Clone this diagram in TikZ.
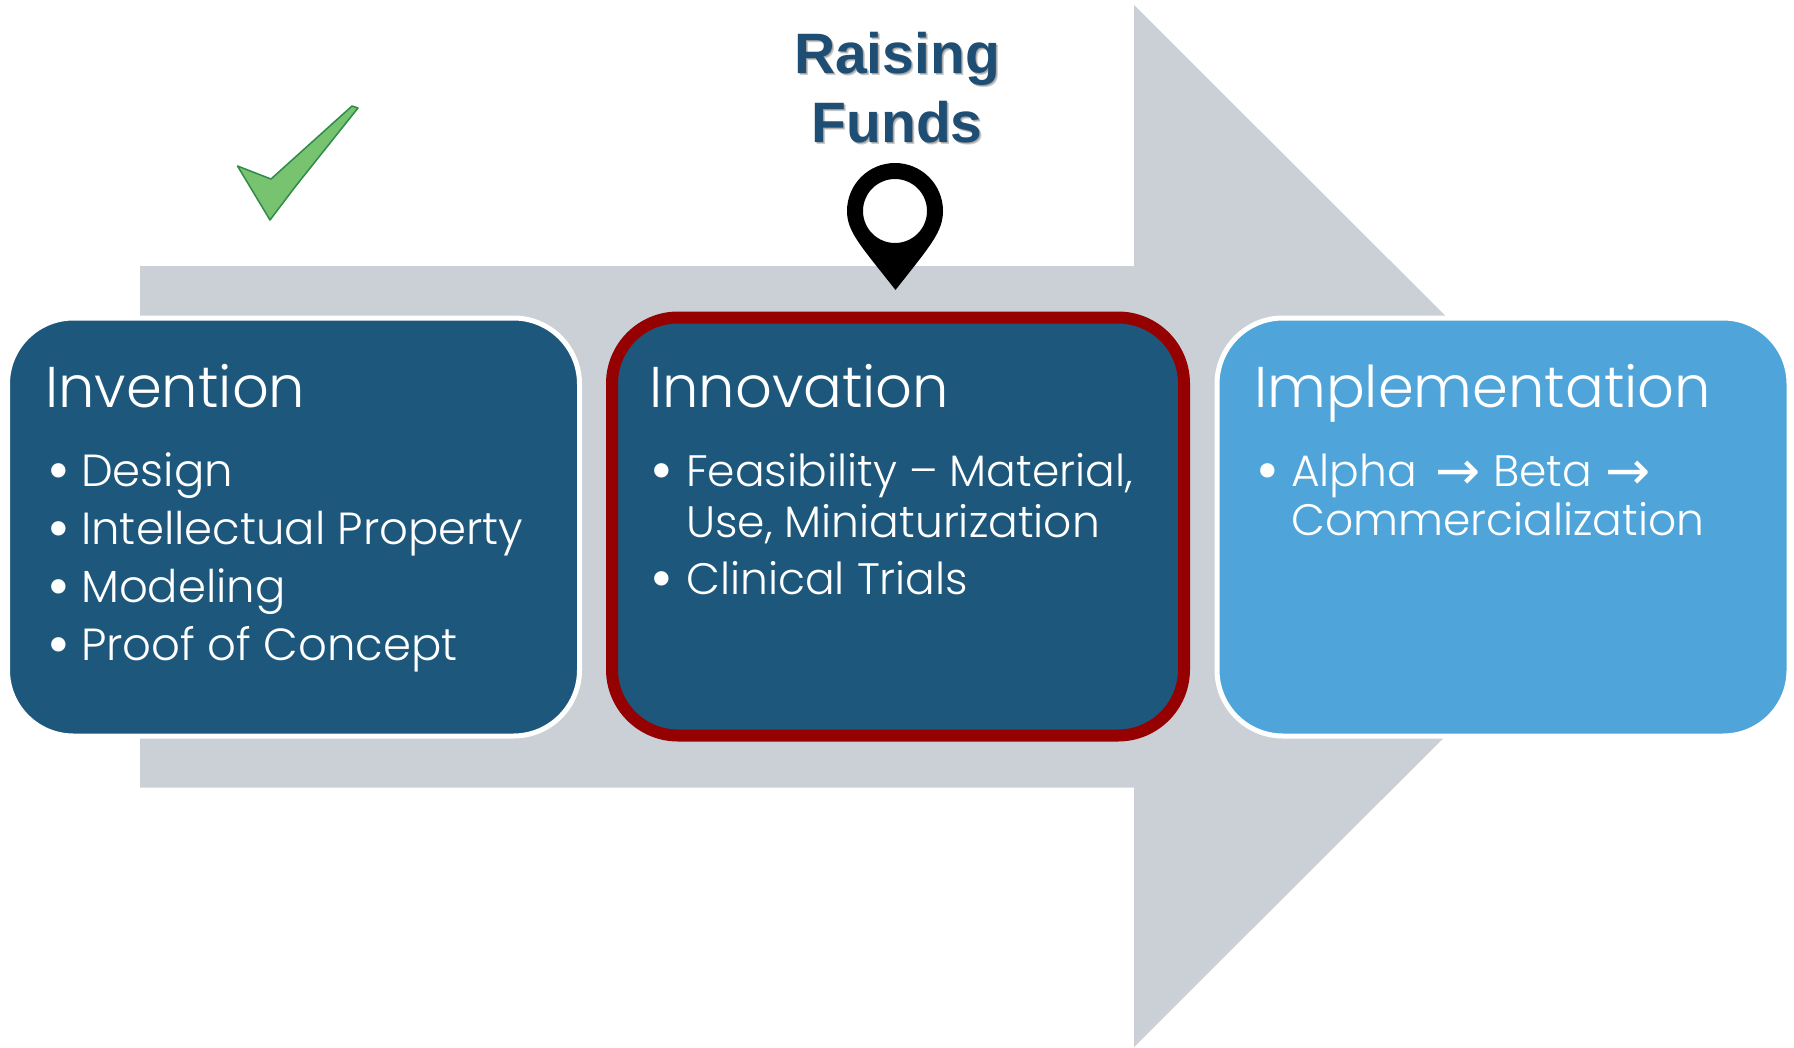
\documentclass[tikz,border=0pt]{standalone}
\usepackage{fontspec}
\setmainfont{Poppins Light}
\newfontfamily\boldfont{Liberation Sans Bold}
\newfontfamily\symfont{DejaVu Sans}
\usepackage{tikz}
\usepackage{xcolor}

\definecolor{arrowgray}{HTML}{CBD0D7}
\definecolor{darkblue}{HTML}{1D587C}
\definecolor{lightblue}{HTML}{4FA5D9}
\definecolor{darkred}{HTML}{950000}
\definecolor{checkgreen}{HTML}{77C36F}
\definecolor{checkedge}{HTML}{2E8B4A}
\definecolor{fundsblue}{HTML}{1F4E74}

\tikzset{
  stage/.style={rectangle, rounded corners=66pt, draw=white, line width=5pt, inner sep=0pt},
  title/.style={anchor=base west, inner sep=0pt, text=white, font=\fontsize{57.5}{57.5}\selectfont},
  item/.style={anchor=base west, inner sep=0pt, text=white, font=\fontsize{44}{44}\selectfont},
  wideitem/.style={item, font=\fontsize{45}{45}\selectfont},
  dot/.style={anchor=base, inner sep=0pt, text=white, font=\fontsize{62}{62}\selectfont},
  pointer/.style={anchor=base west, inner sep=0pt, text=white, font=\fontsize{54}{54}\symfont},
  funds/.style={inner sep=0pt, anchor=base, text=fundsblue, font=\fontsize{57}{57}\boldfont},
  fundshade/.style={funds, text=black, opacity=0.2}
}

\begin{document}
\begin{tikzpicture}[x=1pt, y=-1pt]
%    \draw [help lines, opacity=0.5] (0,0) grid [step=100pt] (1794,1047);
    \useasboundingbox (0,0) rectangle (1794,1047);

    %% the big arrow, its tip is hidden behind the third box
    \fill [arrowgray] (140,266) -- (1134,266) -- (1134,5) -- (1656,526)
        -- (1134,1047) -- (1134,787.5) -- (140,787.5) -- cycle;

    %% the three boxes
    \node (invention) [stage, fill=darkblue, minimum width=572pt, minimum height=418pt] at (293.5,527) {};
    \node (innovation) [stage, fill=darkblue, draw=darkred, line width=12pt, minimum width=572pt, minimum height=418pt] at (898,526.5) {};
    \node (implementation) [stage, fill=lightblue, minimum width=572pt, minimum height=418pt] at (1503,527) {};

    %% left box
    \node (t1) [title] at (45,407) {Invention};
    \node (b1) [dot] at (58.5,491) {•};
    \node (i1) [wideitem] at (81,486) {Design};
    \node (b2) [dot] at (58.5,549) {•};
    \node (i2) [wideitem] at (81,544) {Intellectual Property};
    \node (b3) [dot] at (58.5,607) {•};
    \node (i3) [wideitem] at (81,602) {Modeling};
    \node (b4) [dot] at (58.5,665) {•};
    \node (i4) [wideitem] at (81,660) {Proof of Concept};

    %% middle box
    \node (t2) [title] at (649,407) {Innovation};
    \node (b5) [dot] at (662,491) {•};
    \node (i5) [item] at (686,486) {Feasibility – Material,};
    \node (i6) [item] at (686,537) {Use, Miniaturization};
    \node (b6) [dot] at (662,599) {•};
    \node (i7) [item] at (686,594) {Clinical Trials};

    %% right box
    \node (t3) [title] at (1254,407) {Implementation};
    \node (b7) [dot] at (1268,491) {•};
    \node (i8) [item] at (1291,486) {Alpha};
    \node (a1) [pointer] at (1435,489) {→};
    \node (i9) [item] at (1493,486) {Beta};
    \node (a2) [pointer] at (1605,489) {→};
    \node (i10) [item] at (1291,535) {Commercialization};

    %% the check mark
    \draw [fill=checkgreen, draw=checkedge, line width=1.5pt, line join=round]
        (237.5,166) -- (271,179) -- (352,106) -- (358,108) -- (295,187) -- (270,220) -- cycle;

    %% the pin
    \fill [black, even odd rule] (895.5,290) .. controls (861,246) and (847,232) .. (847,211)
        arc [start angle=180, end angle=360, radius=48]
        .. controls (943,232) and (930,246) .. (895.5,290) -- cycle
        (895,211) circle (32);

    %% the label above the pin
    \node (s1) [fundshade] at (899,75.5) {Raising};
    \node (s2) [fundshade] at (899,144.5) {Funds};
    \node (s3) [fundshade] at (898,74.5) {Raising};
    \node (s4) [fundshade] at (898,143.5) {Funds};
    \node (f1) [funds] at (897,73) {Raising};
    \node (f2) [funds] at (897,142) {Funds};
\end{tikzpicture}
\end{document}
